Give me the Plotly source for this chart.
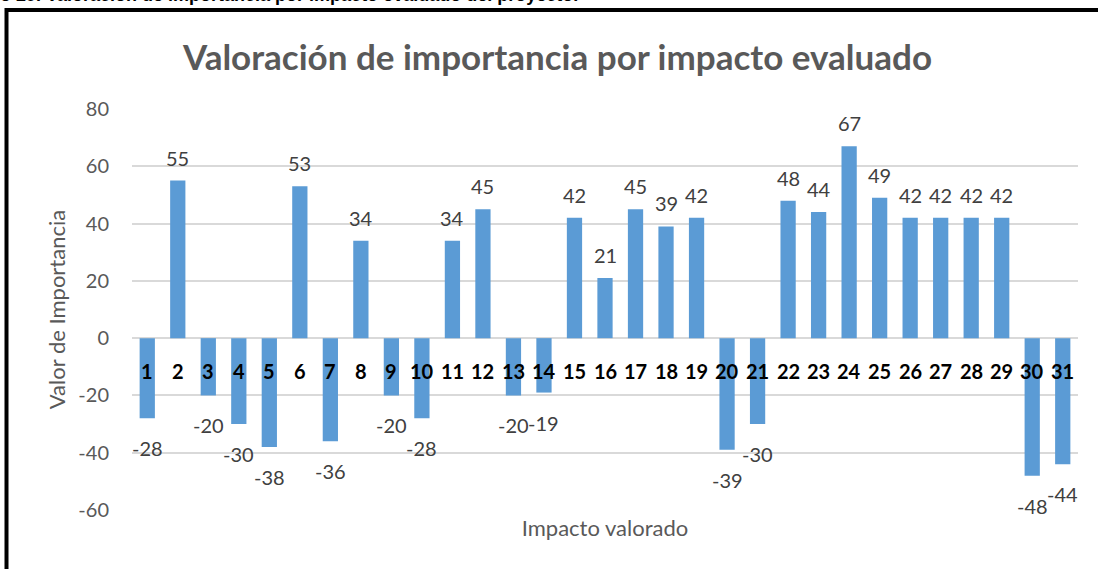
import plotly.graph_objects as go

# Impactos evaluados y su valor de importancia
impactos = list(range(1, 32))
importancia = [-28, 55, -20, -30, -38, 53, -36, 34, -20, -28,
               34, 45, -20, -19, 42, 21, 45, 39, 42, -39,
               -30, 48, 44, 67, 49, 42, 42, 42, 42, -48, -44]
ticks_y = [-60, -40, -20, 0, 20, 40, 60, 80]
ticks_y_texto = [str(v) for v in ticks_y]

W, H = 1098, 569
ML, MR, MT, MB = 132, 20, 109, 59
PW, PH = W - ML - MR, H - MT - MB

FONT = "Lato, Carlito, Calibri, sans-serif"
GRIS = "#595959"


def px_x(px):
    return (px - ML) / PW


def px_y(py):
    return (H - MB - py) / PH


fig = go.Figure()

fig.add_trace(go.Bar(
    x=impactos,
    y=importancia,
    width=0.5,
    marker=dict(color="#5b9bd5", line=dict(width=0)),
    hoverinfo="skip",
    showlegend=False,
))

annotations = []
# etiquetas de valor en el extremo de cada barra
for cat, val in zip(impactos, importancia):
    annotations.append(dict(
        x=cat, y=val, xref="x", yref="y",
        text=str(val), showarrow=False,
        yshift=23 if val >= 0 else -30,
        font=dict(family=FONT, size=20, color="#404040"),
    ))
    # número del impacto sobre la línea de cero
    annotations.append(dict(
        x=cat, y=0, xref="x", yref="y",
        text=f"<b>{cat}</b>", showarrow=False,
        yshift=-33,
        font=dict(family=FONT, size=20, color="black"),
    ))

# título del gráfico
annotations.append(dict(
    x=px_x(557), y=px_y(56), xref="paper", yref="paper",
    text="<b>Valoración de importancia por impacto evaluado</b>",
    showarrow=False, xanchor="center", yanchor="middle",
    font=dict(family=FONT, size=35, color=GRIS),
))

# leyenda del documento sobre el recuadro
annotations.append(dict(
    x=px_x(580), y=px_y(-5), xref="paper", yref="paper",
    text="<b>Gráfico 29. Valoración de importancia por impacto evaluado del proyecto.</b>",
    showarrow=False, xanchor="right", yanchor="middle",
    font=dict(family="Liberation Sans, Arial, sans-serif", size=18, color="black"),
))

shapes = [dict(
    type="rect", xref="paper", yref="paper",
    x0=px_x(6.5), x1=px_x(1200), y0=px_y(10), y1=px_y(700),
    line=dict(color="black", width=4), fillcolor="rgba(0,0,0,0)",
    layer="below",
)]

fig.update_layout(
    width=W, height=H,
    margin=dict(l=ML, r=MR, t=MT, b=MB),
    paper_bgcolor="white", plot_bgcolor="white",
    annotations=annotations,
    shapes=shapes,
    xaxis=dict(
        range=[0.5, 31.5],
        showticklabels=False, showgrid=False, zeroline=False,
        showline=False, ticks="",
        title=dict(text="Impacto valorado", standoff=10,
                   font=dict(family=FONT, size=22, color=GRIS)),
    ),
    yaxis=dict(
        range=[-60, 80], tickvals=ticks_y, ticktext=ticks_y_texto,
        showgrid=True, gridcolor="#d9d9d9", gridwidth=1.5,
        zeroline=True, zerolinecolor="#d9d9d9", zerolinewidth=1.5,
        showline=False, ticks="",
        ticklabelstandoff=22,
        tickfont=dict(family=FONT, size=20, color=GRIS),
        title=dict(text="Valor de Importancia", standoff=6,
                   font=dict(family=FONT, size=22, color=GRIS)),
    ),
)

fig.write_html("out.html")
